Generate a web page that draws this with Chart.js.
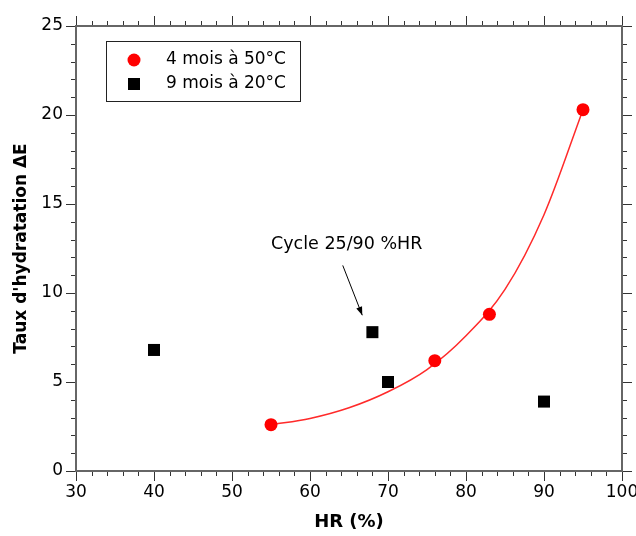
<!DOCTYPE html>
<html>
<head>
<meta charset="utf-8">
<script src="https://cdn.jsdelivr.net/npm/chart.js@4.4.0/dist/chart.umd.min.js"></script>
<style>
  html, body { margin: 0; padding: 0; background: #fff; }
  #wrap { width: 636px; height: 536px; }
</style>
</head>
<body>
<div id="wrap"><canvas id="hydChart" width="636" height="536"></canvas></div>
<script>
// data
const hr50 = [55, 76, 83, 95];
const dE50 = [2.6, 6.2, 8.8, 20.3];
const hr20 = [40, 68, 70, 90];
const dE20 = [6.8, 7.8, 5.0, 3.9];
// fitted curve through the 50°C points
const fitHR = [55, 60, 65, 70, 75, 80, 85, 90, 95];
const fitDE = [2.6, 2.95, 3.55, 4.45, 5.7, 7.6, 10.2, 14.4, 20.3];
const xTicks = [30, 40, 50, 60, 70, 80, 90, 100];
const yTicks = [0, 5, 10, 15, 20, 25];
const labels = ['4 mois à 50°C', '9 mois à 20°C'];
const noteText = 'Cycle 25/90 %HR';

const FONT = 'DejaVu Sans';

function pts(xs, ys) {
    return xs.map((x, i) => ({ x: x, y: ys[i] }));
}

// 🔥 frame, minor ticks, arrow note, boxed legend
const decor = {
    id: 'decor',
    afterDatasetsDraw(chart) {
        const { ctx, chartArea: a, scales: { x, y } } = chart;
        ctx.save();

        // ticks on all four sides, pointing out
        ctx.strokeStyle = '#333';
        ctx.lineWidth = 1;
        ctx.beginPath();
        for (let v = 30; v <= 100; v += 2) {
            const px = Math.round(x.getPixelForValue(v)) + 0.5;
            const len = v % 10 === 0 ? 10 : 5;
            ctx.moveTo(px, a.bottom); ctx.lineTo(px, a.bottom + len);
            ctx.moveTo(px, a.top); ctx.lineTo(px, a.top - len);
        }
        for (let v = 0; v <= 25; v += 1) {
            const py = Math.round(y.getPixelForValue(v)) + 0.5;
            const len = v % 5 === 0 ? 10 : 5;
            ctx.moveTo(a.left, py); ctx.lineTo(a.left - len, py);
            ctx.moveTo(a.right, py); ctx.lineTo(a.right + len, py);
        }
        ctx.stroke();

        // frame
        ctx.strokeStyle = '#666';
        ctx.lineWidth = 2;
        ctx.strokeRect(a.left, a.top, a.right - a.left, a.bottom - a.top);

        // annotation with arrow
        const x0 = x.getPixelForValue(64.2), y0 = y.getPixelForValue(11.55);
        const x1 = x.getPixelForValue(66.7), y1 = y.getPixelForValue(8.75);
        ctx.strokeStyle = '#000';
        ctx.lineWidth = 1;
        ctx.beginPath();
        ctx.moveTo(x0, y0);
        ctx.lineTo(x1, y1);
        ctx.stroke();
        const ang = Math.atan2(y1 - y0, x1 - x0);
        ctx.fillStyle = '#000';
        ctx.beginPath();
        ctx.moveTo(x1, y1);
        ctx.lineTo(x1 - 9 * Math.cos(ang - 0.35), y1 - 9 * Math.sin(ang - 0.35));
        ctx.lineTo(x1 - 9 * Math.cos(ang + 0.35), y1 - 9 * Math.sin(ang + 0.35));
        ctx.closePath();
        ctx.fill();

        ctx.font = '17.5px "' + FONT + '"';
        ctx.textAlign = 'center';
        ctx.textBaseline = 'middle';
        ctx.fillText(noteText, x.getPixelForValue(64.7), y.getPixelForValue(12.7));

        // legend box
        const lx = a.left + 30, ly = a.top + 15, lw = 194, lh = 60;
        ctx.strokeStyle = '#222';
        ctx.lineWidth = 1;
        ctx.strokeRect(lx + 0.5, ly + 0.5, lw, lh);
        ctx.textAlign = 'left';
        ctx.font = '17px "' + FONT + '"';
        chart.data.datasets.slice(0, 2).forEach((ds, i) => {
            const cy = ly + 19 + i * 24;
            ctx.fillStyle = ds.backgroundColor;
            if (ds.pointStyle === 'rect') {
                ctx.fillRect(lx + 22, cy - 6, 12, 12);
            } else {
                ctx.beginPath();
                ctx.arc(lx + 28, cy, 6.5, 0, Math.PI * 2);
                ctx.fill();
            }
            ctx.fillStyle = '#000';
            ctx.fillText(ds.label, lx + 60, cy);
        });

        ctx.restore();
    }
};

const ctx = document.getElementById('hydChart').getContext('2d');

const hydChart = new Chart(ctx, {
    type: 'scatter',
    data: {
        datasets: [{
            label: labels[0],
            data: pts(hr50, dE50),
            pointStyle: 'circle',
            pointRadius: 6.5,
            backgroundColor: '#ff0000',
            borderWidth: 0
        }, {
            label: labels[1],
            data: pts(hr20, dE20),
            pointStyle: 'rect',
            pointRadius: 8.5,
            backgroundColor: '#000000',
            borderWidth: 0
        }, {
            label: 'fit',
            data: pts(fitHR, fitDE),
            showLine: true,
            pointRadius: 0,
            borderColor: '#ff2a2a',
            borderWidth: 1.5,
            cubicInterpolationMode: 'monotone'
        }]
    },
    options: {
        responsive: false,
        animation: false,
        layout: { padding: { left: 0, top: 26, right: 14, bottom: 0 } },
        plugins: {
            legend: { display: false },
            tooltip: { enabled: false }
        },
        scales: {
            x: {
                type: 'linear',
                min: 30,
                max: 100,
                afterBuildTicks: s => { s.ticks = xTicks.map(v => ({ value: v })); },
                afterFit: s => { s.height = 65; s.paddingLeft = 0; s.paddingRight = 0; },
                grid: { display: false, drawTicks: false },
                border: { display: false },
                ticks: { color: '#000', padding: 11, font: { family: FONT, size: 17 } },
                title: {
                    display: true,
                    text: 'HR (%)',
                    color: '#000',
                    padding: { top: 0, bottom: 3 },
                    font: { family: FONT, size: 18, weight: 'bold' }
                }
            },
            y: {
                type: 'linear',
                min: 0,
                max: 25,
                afterBuildTicks: s => { s.ticks = yTicks.map(v => ({ value: v })); },
                afterFit: s => { s.width = 76; s.paddingTop = 0; s.paddingBottom = 0; },
                grid: { display: false, drawTicks: false },
                border: { display: false },
                ticks: { color: '#000', padding: 13, font: { family: FONT, size: 17 } },
                title: {
                    display: true,
                    text: "Taux d'hydratation ΔE",
                    color: '#000',
                    padding: { top: 11, bottom: 0 },
                    font: { family: FONT, size: 17, weight: 'bold' }
                }
            }
        }
    },
    plugins: [decor]
});
</script>
</body>
</html>
